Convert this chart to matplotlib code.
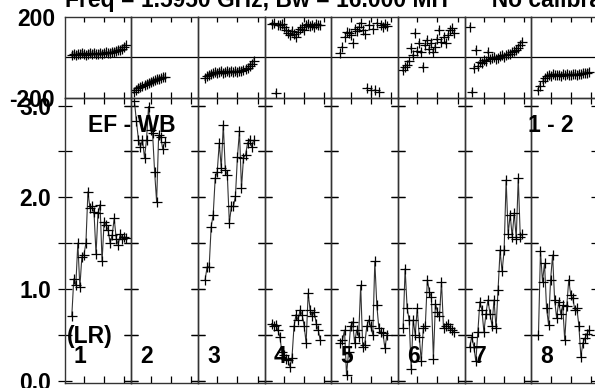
import numpy as np
import matplotlib
matplotlib.use('Agg')
import matplotlib.pyplot as plt

plt.rcParams['font.family'] = ['Liberation Sans', 'DejaVu Sans']
plt.rcParams['font.weight'] = 'bold'

''' first channel of each IF panel '''
start_chan = [4, 2, 4, 4, 5, 3, 3, 4]

''' amplitude per channel, one list per IF '''
amp1 = [0.70, 1.11, 1.04, 1.50, 1.02, 1.35, 1.37, 1.50, 2.06, 1.88, 1.90, 1.84, 1.38, 1.83,
        1.92, 1.30, 1.73, 1.70, 1.64, 1.50, 1.59, 1.77, 1.55, 1.48, 1.60, 1.55, 1.57, 1.56]
amp2 = [3.05, 2.83, 2.63, 2.55, 2.63, 2.43, 2.63, 2.99, 2.73, 2.70, 2.28, 1.95, 2.68, 2.66,
        2.53, 2.60]
amp3 = [1.10, 1.24, 1.24, 1.68, 1.81, 2.21, 2.28, 2.59, 2.32, 2.79, 2.30, 2.24, 1.72, 1.90,
        1.90, 2.01, 2.44, 2.72, 2.10, 2.43, 2.46, 2.59, 2.63, 2.55, 2.62]
amp4 = [0.62, 0.59, 0.61, 0.55, 0.48, 0.31, 0.28, 0.24, 0.22, 0.15, 0.25, 0.59, 0.72, 0.66,
        0.77, 0.72, 0.60, 0.41, 0.95, 0.77, 0.70, 0.75, 0.62, 0.55, 0.44]
amp5 = [0.41, 0.44, 0.55, 0.06, 0.31, 0.59, 0.64, 0.41, 0.55, 0.48, 1.04, 0.37, 0.39, 0.59,
        0.66, 0.59, 0.50, 1.30, 0.82, 0.57, 0.53, 0.52, 0.35, 0.50]
amp6 = [0.57, 1.22, 0.79, 0.66, 0.13, 0.66, 0.50, 0.79, 0.48, 0.21, 0.57, 0.60, 1.10, 0.97,
        0.91, 0.24, 0.84, 0.75, 0.70, 1.08, 0.57, 0.59, 0.62, 0.57, 0.55, 0.53]
amp7 = [0.37, 0.48, 0.37, 0.21, 0.53, 0.86, 0.77, 0.53, 0.73, 0.88, 0.73, 0.60, 0.88, 0.57,
        0.99, 1.42, 1.19, 1.42, 2.19, 1.60, 1.81, 1.57, 1.83, 1.55, 2.21, 1.57, 1.60]
amp8 = [0.50, 1.41, 1.08, 1.28, 0.79, 0.61, 1.10, 1.37, 0.88, 0.68, 0.86, 0.73, 0.82, 0.44,
        0.81, 1.10, 0.93, 0.90, 0.77, 0.79, 0.60, 0.26, 0.41, 0.46, 0.51, 0.55]

''' phase (degrees) per channel '''
ph1 = [11, 15, 10, 18, 14, 20, 16, 12, 18, 22, 15, 20, 17, 14, 22, 18, 20, 24, 19, 22,
       25, 28, 30, 35, 38, 42, 50, 58]
ph2 = [-170, -160, -150, -148, -140, -135, -130, -125, -122, -118, -115, -110, -108, -105,
       -100, -98]
ph3 = [-105, -95, -88, -82, -80, -75, -78, -72, -70, -76, -74, -70, -72, -68, -75, -70,
       -72, -66, -68, -62, -60, -55, -45, -35, -20]
ph4 = [165, 170, -177, 160, 158, 165, 150, 135, 120, 110, 130, 115, 100, 125, 140, 150,
       135, 160, 165, 155, 160, 150, 165, 160, 158]
ph5 = [20, 50, 100, 125, 120, 110, 70, 140, 130, 150, 168, 134, 115, -153, 160, -162, 140,
       -162, 170, -172, 160, 150, 165, 155]
ph6 = [-63, -50, -40, -20, 45, 10, 118, 30, 70, 26, -48, 60, 85, 40, 70, 26, 50, 90, 134,
       75, 100, 70, 110, 134, 143, 120]
ph7 = [150, -172, -55, 36, -45, -22, -30, -15, -20, 26, -10, -5, 0, -8, -5, 5, 10, 0, 12,
       18, 15, 25, 30, 35, 45, 60, 75]
ph8 = [-162, -140, -120, -105, -95, -90, -92, -85, -90, -88, -86, -92, -85, -88, -84, -90,
       -86, -85, -83, -88, -82, -84, -80, -78, -76, -72]

''' phase error bar half-size per IF '''
ph_err = [14, 14, 14, 10, 6, 8, 8, 12]

amps = [amp1, amp2, amp3, amp4, amp5, amp6, amp7, amp8]
phases = [ph1, ph2, ph3, ph4, ph5, ph6, ph7, ph8]
if_labels = ['1', '2', '3', '4', '5', '6', '7', '8']

W, H = 595, 388
fig = plt.figure(figsize=(W / 100, H / 100), dpi=100)

x0 = 64.7
pw = 66.67
fs = 16.5
edge = '#333333'

for i in range(8):
    left = (x0 + i * pw) / W
    axp = fig.add_axes([left, (H - 97.7) / H, pw / W, 81 / H])
    axa = fig.add_axes([left, (H - 382.7) / H, pw / W, 285 / H])

    ch = np.arange(start_chan[i], start_chan[i] + len(amps[i]))

    # phase
    axp.errorbar(ch, phases[i], yerr=ph_err[i], fmt='none', ecolor='0.5', elinewidth=1.1)
    axp.plot(ch, phases[i], '+', color='k', markersize=7.5, mew=0.9)
    axp.axhline(0, color='k', lw=0.9)
    axp.set_xlim(0.5, 33.5)
    axp.set_ylim(-200, 200)
    axp.set_xticks([10, 20, 30])
    axp.tick_params(axis='x', direction='in', length=3.5, top=True, bottom=False,
                    labelbottom=False, width=0.9)
    if i == 0:
        axp.set_yticks([-200, 200])
        axp.set_yticklabels(['-200', '200'])
        axp.tick_params(axis='y', length=0, pad=7, labelsize=fs)
    else:
        axp.set_yticks([])

    # amplitude
    axa.plot(ch, amps[i], '-', color=edge, lw=0.8)
    axa.plot(ch, amps[i], '+', color='k', markersize=7.5, mew=0.9)
    axa.set_xlim(0.5, 33.5)
    axa.set_ylim(-0.024, 3.087)
    axa.set_xticks([10, 20, 30])
    axa.tick_params(axis='x', direction='in', length=5, top=False, bottom=True,
                    labelbottom=False, width=0.9)
    axa.secondary_xaxis('top').set_xticks([10, 20, 30], labels=[])
    axa.set_yticks([0, 1, 2, 3])
    axa.set_yticks([0.5, 1.5, 2.5], minor=True)
    axa.tick_params(axis='y', which='both', direction='inout', length=10, left=True,
                    right=True, width=0.9, color='k', labelsize=fs, pad=4.8)
    if i == 0:
        axa.set_yticklabels(['0.0', '1.0', '2.0', '3.0'])
    else:
        axa.set_yticklabels([])

    for ax in (axp, axa):
        for s in ax.spines.values():
            s.set_color(edge)
            s.set_linewidth(1.0)
        ax.patch.set_alpha(0)

    fig.text((x0 + i * pw + 9) / W, 1 - 363 / H, if_labels[i], fontsize=fs,
             fontweight='bold', va='baseline')

# top ticks of the amplitude panels point both ways
for ax in fig.axes:
    for child in ax.child_axes:
        child.tick_params(direction='inout', length=8, width=0.9)
        child.spines['top'].set_visible(False)

fig.text(x0 / W, 1 - 7 / H, "Freq = 1.5950 GHz, Bw = 16.000 MH'      No calibration",
         fontsize=fs, fontweight='bold', va='baseline')
fig.text(88 / W, 1 - 131.7 / H, 'EF - WB', fontsize=fs, fontweight='bold', va='baseline')
fig.text(528 / W, 1 - 131.7 / H, '1 - 2', fontsize=fs, fontweight='bold', va='baseline')
fig.text(67 / W, 1 - 343 / H, '(LR)', fontsize=fs, fontweight='bold', va='baseline')

fig.savefig('out.png', dpi=100)
